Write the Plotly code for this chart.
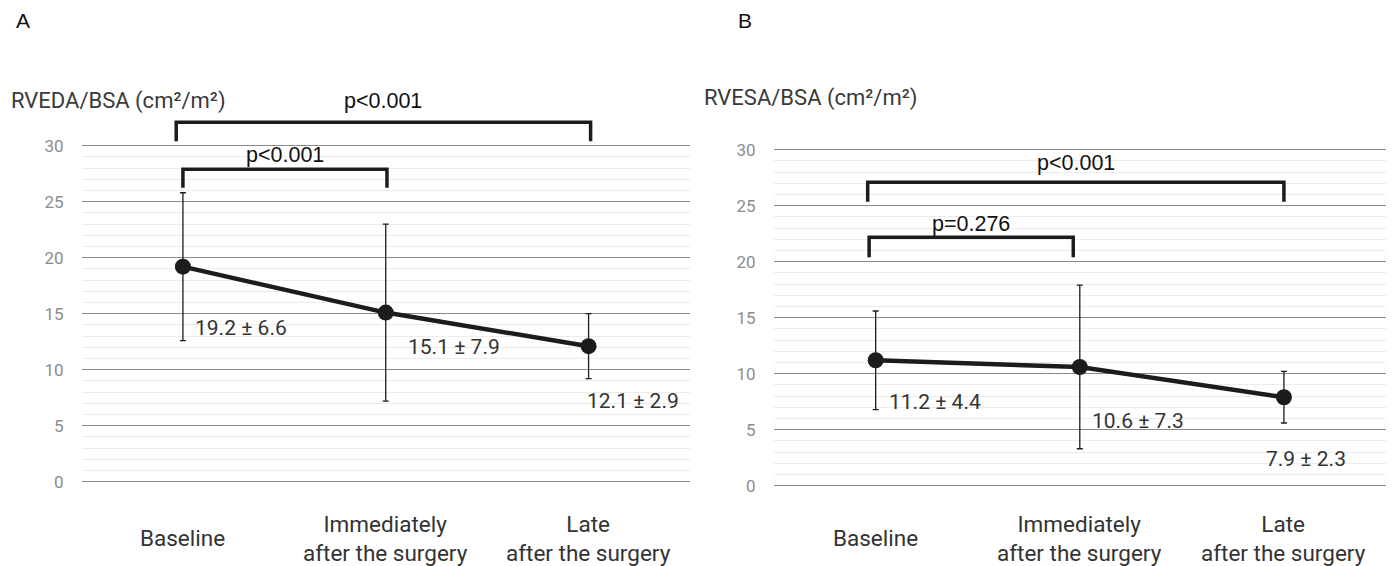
import plotly.graph_objects as go

# ---------------- data ----------------
categories = ["Baseline", "Immediately<br>after the surgery", "Late<br>after the surgery"]
rveda_mean = [19.2, 15.1, 12.1]
rveda_sd = [6.6, 7.9, 2.9]
rvesa_mean = [11.2, 10.6, 7.9]
rvesa_sd = [4.4, 7.3, 2.3]
ytick_vals = [0, 5, 10, 15, 20, 25, 30]
panel_titles = ["A", "B"]
y_titles = ["RVEDA/BSA (cm²/m²)", "RVESA/BSA (cm²/m²)"]
# comparisons: (from index, to index, p text)
comparisons_a = [(0, 2, "p<0.001"), (0, 1, "p<0.001")]
comparisons_b = [(0, 2, "p<0.001"), (0, 1, "p=0.276")]

# ---------------- style ----------------
W, H = 1392, 566
DARK = "#1c1c1c"
NARROW = "Roboto, Noto Sans CJK JP, sans-serif"
ARIAL = "Liberation Sans, Arial, sans-serif"

def px2paper_x(px):
    return px / W

def px2paper_y(px):
    return 1 - px / H

xi = list(range(len(categories)))
fig = go.Figure()

panels = [
    dict(xa="x", ya="y", mean=rveda_mean, sd=rveda_sd, x0=81.5, x1=690, y0=481.7,
         comps=comparisons_a,
         br=[(32.1, 30.4, 34.0, -0.033, 0.01), (27.9, 26.25, 29.2, 0.0, 0.006)],
         lab=[(13.7, 10), (12.05, 20), (7.2, -4)]),
    dict(xa="x2", ya="y2", mean=rvesa_mean, sd=rvesa_sd, x0=773.6, x1=1386, y0=485.7,
         comps=comparisons_b,
         br=[(27.09, 25.36, 28.8, -0.039, 0.0), (22.18, 20.4, 23.4, -0.032, -0.032)],
         lab=[(7.5, 11), (5.8, 10), (2.34, -20)]),
]

YMIN, YMAX = -0.6, 36
PXU = 11.2
annotations = []
shapes = []
layout_axes = {}
for k, p in enumerate(panels):
    fig.add_trace(go.Scatter(
        x=xi, y=p["mean"], xaxis=p["xa"], yaxis=p["ya"], mode="lines+markers",
        line=dict(color=DARK, width=4.5),
        marker=dict(color=DARK, size=16),
        error_y=dict(type="data", array=p["sd"], visible=True, color=DARK,
                     thickness=1.3, width=3),
        showlegend=False, cliponaxis=False))
    top_px = p["y0"] - YMAX * PXU
    bot_px = p["y0"] - YMIN * PXU
    suffix = "" if k == 0 else str(k + 1)
    layout_axes["xaxis" + suffix] = dict(
        domain=[px2paper_x(p["x0"]), px2paper_x(p["x1"])], range=[-0.5, 2.5],
        showticklabels=False, showgrid=False, zeroline=False, showline=False,
        anchor="y" + suffix, fixedrange=True, automargin=False)
    layout_axes["yaxis" + suffix] = dict(
        domain=[px2paper_y(bot_px), px2paper_y(top_px)], range=[YMIN, YMAX],
        tickvals=ytick_vals, showgrid=True, gridcolor="#8a8a8a", gridwidth=1.3,
        zeroline=False, showline=False, anchor="x" + suffix, automargin=False,
        tickfont=dict(family=NARROW, size=17, color="#8c8c8c"),
        ticklabelstandoff=17,
        minor=dict(tickvals=[v for v in range(1, 30) if v % 5], showgrid=True,
                   gridcolor="#ececec", gridwidth=1),
        fixedrange=True)
    for i, c in enumerate(categories):
        annotations.append(dict(x=i, y=px2paper_y(538), xref=p["xa"], yref="paper",
                                text=c, showarrow=False, xanchor="center", yanchor="middle",
                                font=dict(family=NARROW, size=22.5, color="#333333")))
    for i, (m, s) in enumerate(zip(p["mean"], p["sd"])):
        ly, xs = p["lab"][i]
        annotations.append(dict(x=i, y=ly, xref=p["xa"], yref=p["ya"],
                                text=f"{m} ± {s}", showarrow=False, xanchor="left",
                                yanchor="middle", xshift=xs,
                                font=dict(family=NARROW, size=21, color="#333333")))
    for (a, b, txt), (hy, by, ty, dxa, dxb) in zip(p["comps"], p["br"]):
        xa_, xb_ = a + dxa, b + dxb
        shapes.append(dict(type="path", xref=p["xa"], yref=p["ya"],
                           path=f"M {xa_} {by} L {xa_} {hy} L {xb_} {hy} L {xb_} {by}",
                           line=dict(color=DARK, width=3.5)))
        annotations.append(dict(x=(xa_ + xb_) / 2, y=ty, xref=p["xa"], yref=p["ya"],
                                text=txt, showarrow=False, xanchor="center", yanchor="middle",
                                font=dict(family=ARIAL, size=21.5, color="#111111")))

annotations += [
    dict(x=px2paper_x(14), y=px2paper_y(20), xref="paper", yref="paper", text=panel_titles[0],
         showarrow=False, xanchor="left", yanchor="middle",
         font=dict(family=ARIAL, size=21, color="#111111")),
    dict(x=px2paper_x(736), y=px2paper_y(20), xref="paper", yref="paper", text=panel_titles[1],
         showarrow=False, xanchor="left", yanchor="middle",
         font=dict(family=ARIAL, size=21, color="#111111")),
    dict(x=px2paper_x(9), y=px2paper_y(101), xref="paper", yref="paper", text=y_titles[0],
         showarrow=False, xanchor="left", yanchor="middle",
         font=dict(family=NARROW, size=22, color="#3a3a3a")),
    dict(x=px2paper_x(702), y=px2paper_y(98), xref="paper", yref="paper", text=y_titles[1],
         showarrow=False, xanchor="left", yanchor="middle",
         font=dict(family=NARROW, size=22, color="#3a3a3a")),
]

fig.update_layout(width=W, height=H, margin=dict(l=0, r=0, t=0, b=0, autoexpand=False),
                  paper_bgcolor="white", plot_bgcolor="white",
                  annotations=annotations, shapes=shapes, **layout_axes)
fig.write_html("out.html", config={"displayModeBar": False},
               post_script="document.body.style.margin='0';")
